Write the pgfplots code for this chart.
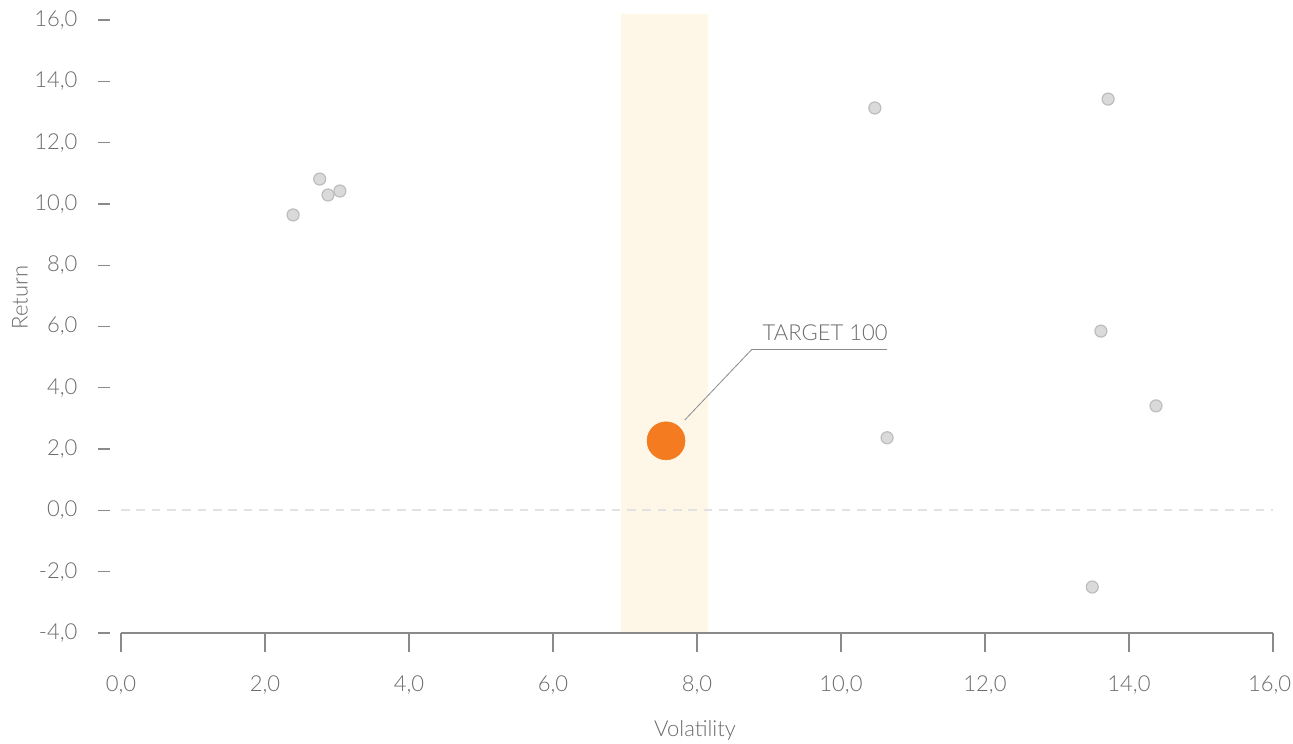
\documentclass[border=0pt]{standalone}
\usepackage{fontspec}
\setmainfont{Lato}[UprightFont={* Light}]
\usepackage{pgfplots}
\pgfplotsset{compat=1.18}
\definecolor{txt}{HTML}{6A6A6A}
\definecolor{axl}{HTML}{8A8A8A}
\definecolor{ptfill}{HTML}{DADADA}
\definecolor{ptdraw}{HTML}{BDBDBD}
\definecolor{orng}{HTML}{F47B20}
\definecolor{band}{HTML}{FEF7E8}
\definecolor{zero}{HTML}{E2E2E2}
\pgfplotstableread{
x y
2.39 9.64
2.76 10.81
2.875 10.29
3.04 10.42
10.47 13.13
13.71 13.42
13.61 5.85
14.375 3.41
10.64 2.37
13.49 -2.50
}\others
\newcommand\lbl{\fontsize{16.5}{20}\selectfont}
\pgfplotsset{base/.style={
  scale only axis,
  width=864pt, height=459.75pt,
  xmin=0, xmax=16, ymin=-4, ymax=16,
  axis lines=left,
  axis line style={draw=none},
  tick align=outside,
  ticklabel style={text=txt, font=\lbl},
  clip=false,
}}
\begin{document}
\lbl
\begin{tikzpicture}
% y ticks only
\begin{axis}[base,
  xtick=\empty,
  ytick={-4,-2,...,16},
  yticklabels={{-4,0},{-2,0},{0,0},{2,0},{4,0},{6,0},{8,0},{10,0},{12,0},{14,0},{16,0}},
  major tick length=9pt,
  y tick style={draw=axl, line width=1pt, xshift=-8.25pt},
  yticklabel style={xshift=-18pt},
  ylabel={Return},
  ylabel style={text=txt, font=\lbl, at={(rel axis cs:0,0.5475)}, anchor=center, yshift=75.75pt},
]
\end{axis}
% main axis
\begin{axis}[base,
  ytick=\empty,
  xtick={0,2,...,16},
  xticklabels={{0,0},{2,0},{4,0},{6,0},{8,0},{10,0},{12,0},{14,0},{\hspace*{-5pt}16,0}},
  major tick length=14.25pt,
  x tick style={draw=axl, line width=0.9pt},
  xticklabel style={yshift=-12pt},
  xlabel={Volatility},
  xlabel style={text=txt, font=\lbl, at={(rel axis cs:0.4983,0)}, anchor=center, yshift=-72.75pt},
]
\fill[band] (axis cs:6.94,-4) rectangle (axis cs:8.15,16.2);
\draw[zero, line width=1.4pt, dash pattern=on 6.5pt off 5pt] (axis cs:0,0) -- (axis cs:16,0);
\draw[axl, line width=0.9pt] (axis cs:0,-4) -- (axis cs:16,-4);
\addplot[only marks, mark=*, mark size=4.5pt, mark options={fill=ptfill, draw=ptdraw, line width=0.9pt}] table {\others};
\addplot[only marks, mark=*, mark size=14.25pt, mark options={fill=orng, draw=orng}] coordinates {(7.57,2.27)};
\draw[axl, line width=0.6pt] (axis cs:7.83,2.95) -- (axis cs:8.76,5.25) -- (axis cs:10.64,5.25);
\node[text=txt, anchor=base east, inner sep=0pt, font=\lbl] at (axis cs:10.65,5.53) {TARGET 100};
\end{axis}
\pgfresetboundingbox
\path (-90.75pt,474.75pt) rectangle (879pt,-82.5pt);
\end{tikzpicture}
\end{document}
